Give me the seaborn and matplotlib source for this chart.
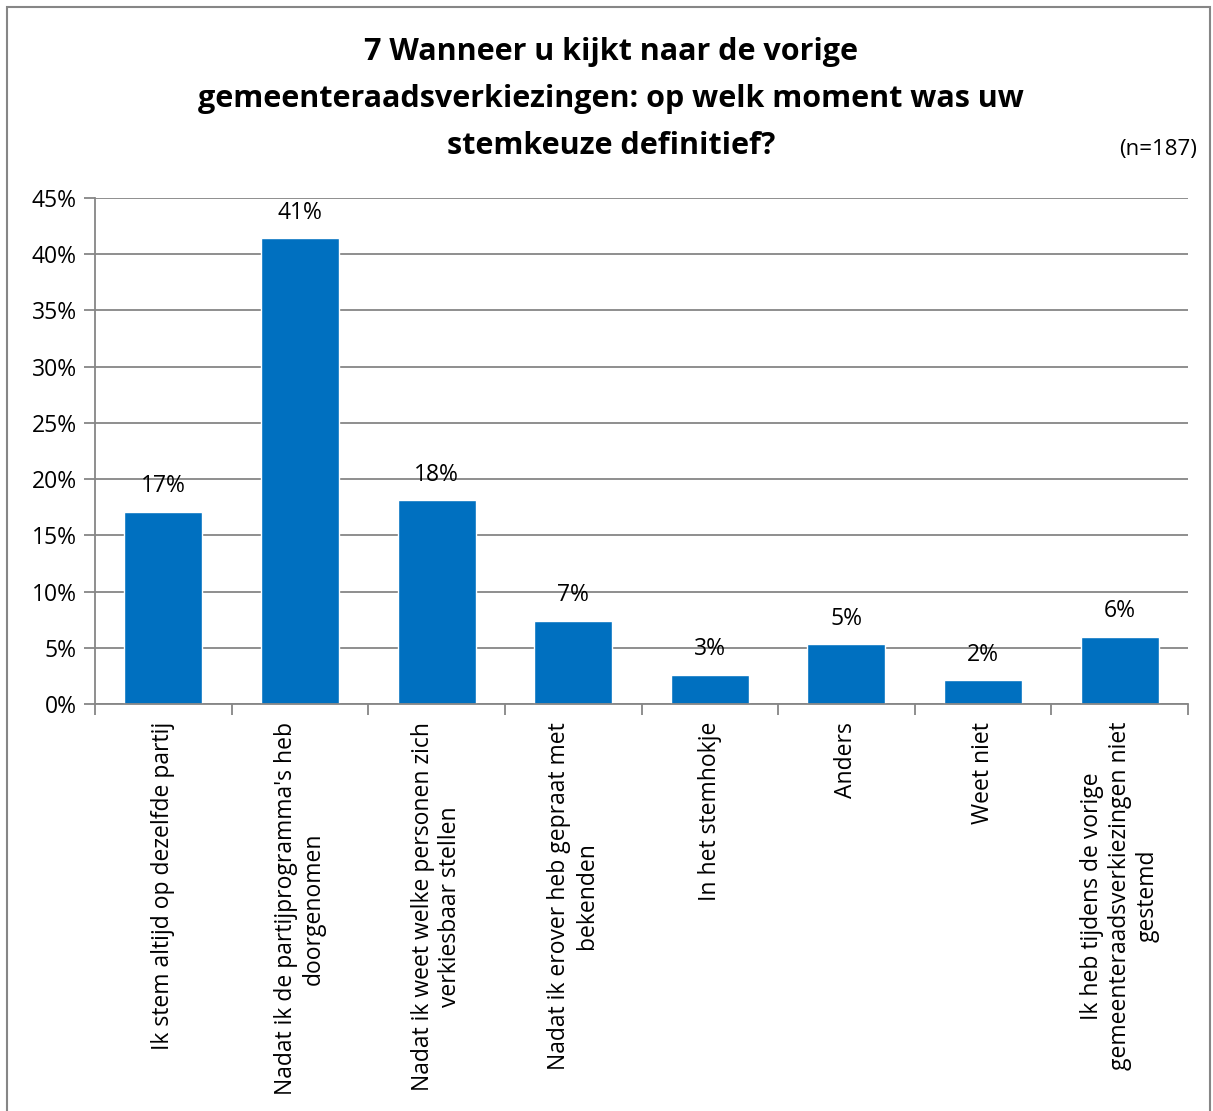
import matplotlib
matplotlib.use("Agg")
import matplotlib.pyplot as plt
import seaborn as sns
import pandas as pd
from matplotlib.patches import Rectangle

categories = [
    "Ik stem altijd op dezelfde partij",
    "Nadat ik de partijprogramma's heb\ndoorgenomen",
    "Nadat ik weet welke personen zich\nverkiesbaar stellen",
    "Nadat ik erover heb gepraat met\nbekenden",
    "In het stemhokje",
    "Anders",
    "Weet niet",
    "Ik heb tijdens de vorige\ngemeenteraadsverkiezingen niet\ngestemd",
]
percentages = [17.1, 41.4, 18.1, 7.4, 2.6, 5.3, 2.1, 6.0]
bar_labels = ["17%", "41%", "18%", "7%", "3%", "5%", "2%", "6%"]
y_ticks = [0, 5, 10, 15, 20, 25, 30, 35, 40, 45]

df = pd.DataFrame({"categorie": categories, "pct": percentages})

sns.set_theme(style="white")
plt.rcParams["font.family"] = ["Open Sans", "DejaVu Sans"]
plt.rcParams["text.color"] = "black"
plt.rcParams["ytick.labelcolor"] = "black"

fig = plt.figure(figsize=(12.13, 11.11), dpi=100)
ax = fig.add_axes([95 / 1213, 1 - 704 / 1111, 1093 / 1213, 506 / 1111])

sns.barplot(data=df, x="categorie", y="pct", color="#0070C0", saturation=1,
            width=0.57, ax=ax)

ax.set_ylim(0, 45)
ax.set_xlim(-0.5, len(categories) - 0.5)
ax.set_yticks(y_ticks)
ax.set_yticklabels([f"{t}%" for t in y_ticks], fontsize=16.5, color="black")
ax.yaxis.grid(True, color="#868686", linewidth=1.3)
ax.set_axisbelow(True)
ax.set_xlabel("")
ax.set_ylabel("")

for s in ["top", "right"]:
    ax.spines[s].set_visible(False)
for s in ["left", "bottom"]:
    ax.spines[s].set_color("#868686")
    ax.spines[s].set_linewidth(1.3)

ax.tick_params(axis="y", which="major", left=True, length=8, color="#868686",
               width=1.3, pad=5, labelcolor="black")
ax.set_xticks([i + 0.5 for i in range(-1, len(categories))])
ax.set_xticklabels([])
ax.tick_params(axis="x", bottom=True, length=8, color="#868686", width=1.3)

for i, (cat, v, lab) in enumerate(zip(categories, percentages, bar_labels)):
    ax.text(i, v + 1.2, lab, ha="center", va="bottom", fontsize=16.5,
            color="black")
    ax.text(i, -1.6, cat, rotation=90, ha="center", va="top",
            multialignment="center", fontsize=16.5, color="black")

fig.text(611 / 1213, 1 - 99 / 1111,
         "7 Wanneer u kijkt naar de vorige\ngemeenteraadsverkiezingen: op welk moment was uw\nstemkeuze definitief?",
         ha="center", va="center", fontsize=22, fontweight="bold",
         linespacing=1.72, color="black")
fig.text(1197 / 1213, 1 - 149 / 1111, "(n=187)", ha="right", va="center",
         fontsize=16, color="black")

fig.patches.append(Rectangle((7 / 1213, -0.01), 1203 / 1213, 1 - 7 / 1111 + 0.01,
                             transform=fig.transFigure, fill=False,
                             edgecolor="#868686", linewidth=1.5))

fig.savefig("out.png", dpi=100)
